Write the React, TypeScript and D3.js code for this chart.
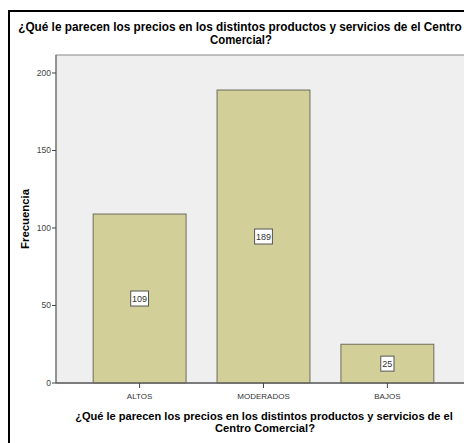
import React, { useLayoutEffect, useRef, useState } from "react";
import * as d3 from "d3";

// Response categories and their counts
const categories = ["ALTOS", "MODERADOS", "BAJOS"];
const counts = [109, 189, 25];
const yTicks = [0, 50, 100, 150, 200];
const yMax = 211.6;

const titleLines = [
  "¿Qué le parecen los precios en los distintos productos y servicios de el Centro",
  "Comercial?",
];
const xTitleLines = [
  "¿Qué le parecen los precios en los distintos productos y servicios de el",
  "Centro Comercial?",
];
const yTitle = "Frecuencia";

const W = 464;
const H = 443;
const plot = { left: 56, top: 55, right: 471, bottom: 383 };
const FONT = "'Liberation Sans', Arial, sans-serif";

// Text squeezed horizontally to a given width, keeping its full glyph height
function NarrowText(props: {
  x: number;
  y: number;
  width: number;
  size: number;
  rotate?: number;
  children: string;
}) {
  const ref = useRef<SVGTextElement>(null);
  const [sx, setSx] = useState(1);
  useLayoutEffect(() => {
    if (ref.current) {
      const natural = ref.current.getComputedTextLength();
      if (natural > 0) setSx(props.width / natural);
    }
  }, [props.width, props.children, props.size]);
  const rot = props.rotate ? ` rotate(${props.rotate})` : "";
  return (
    <text
      ref={ref}
      transform={`translate(${props.x}, ${props.y})${rot} scale(${sx}, 1)`}
      textAnchor="middle"
      fontSize={props.size}
      fontWeight="bold"
      fill="#000"
    >
      {props.children}
    </text>
  );
}

export default function App() {
  const x = d3
    .scaleBand<string>()
    .domain(categories)
    .range([plot.left, plot.right])
    .paddingInner(0.25)
    .paddingOuter(0.3);
  const y = d3.scaleLinear().domain([0, yMax]).range([plot.bottom, plot.top]);

  return (
    <svg
      width={W}
      height={H}
      style={{ position: "fixed", left: 0, top: 0, background: "#fff" }}
      fontFamily={FONT}
    >
      {/* outer chart frame */}
      <rect x={9} y={11} width={480} height={460} fill="#fff" stroke="#000" strokeWidth={2} />

      {/* title */}
      <NarrowText x={240} y={30.5} width={444} size={12}>{titleLines[0]}</NarrowText>
      <NarrowText x={241} y={44} width={62} size={12}>{titleLines[1]}</NarrowText>

      {/* plot background */}
      <rect x={plot.left} y={plot.top} width={plot.right - plot.left} height={plot.bottom - plot.top}
        fill="#efefef" stroke="#8a8a8a" strokeWidth={1} />

      {/* bars */}
      {categories.map((c, i) => (
        <rect key={c} x={x(c)!} y={y(counts[i])} width={x.bandwidth()} height={y(0) - y(counts[i])}
          fill="#d3cf99" stroke="#6e6c5c" strokeWidth={1} />
      ))}

      {/* value labels */}
      {categories.map((c, i) => {
        const cx = x(c)! + x.bandwidth() / 2;
        const cy = (y(counts[i]) + y(0)) / 2;
        const label = String(counts[i]);
        const bw = label.length * 4.6 + 4;
        return (
          <g key={c + "-lbl"}>
            <rect x={cx - bw / 2} y={cy - 7.5} width={bw} height={15} fill="#fff" stroke="#555" strokeWidth={1} />
            <text x={cx} y={cy + 3.2} textAnchor="middle" fontSize={9} fill="#333">{label}</text>
          </g>
        );
      })}

      {/* y axis */}
      <line x1={plot.left} x2={plot.left} y1={plot.top} y2={plot.bottom} stroke="#666" />
      {yTicks.map((t) => (
        <g key={t}>
          <line x1={plot.left - 4} x2={plot.left} y1={y(t)} y2={y(t)} stroke="#444" />
          <text x={plot.left - 5} y={y(t) + 3} textAnchor="end" fontSize={8.5} fill="#444">{t}</text>
        </g>
      ))}

      {/* x axis */}
      <line x1={plot.left} x2={plot.right} y1={plot.bottom} y2={plot.bottom} stroke="#666" strokeWidth={1.5} />
      {categories.map((c) => {
        const cx = x(c)! + x.bandwidth() / 2;
        return (
          <g key={c + "-tick"}>
            <line x1={cx} x2={cx} y1={plot.bottom} y2={plot.bottom + 5} stroke="#444" />
            <text x={cx} y={398.5} textAnchor="middle" fontSize={8} fill="#333">{c}</text>
          </g>
        );
      })}

      {/* axis titles */}
      <NarrowText x={264} y={420} width={378} size={11.5}>{xTitleLines[0]}</NarrowText>
      <NarrowText x={265} y={431.5} width={100} size={11.5}>{xTitleLines[1]}</NarrowText>
      <NarrowText x={29} y={(plot.top + plot.bottom) / 2} rotate={-90} width={60} size={11}>{yTitle}</NarrowText>
    </svg>
  );
}
